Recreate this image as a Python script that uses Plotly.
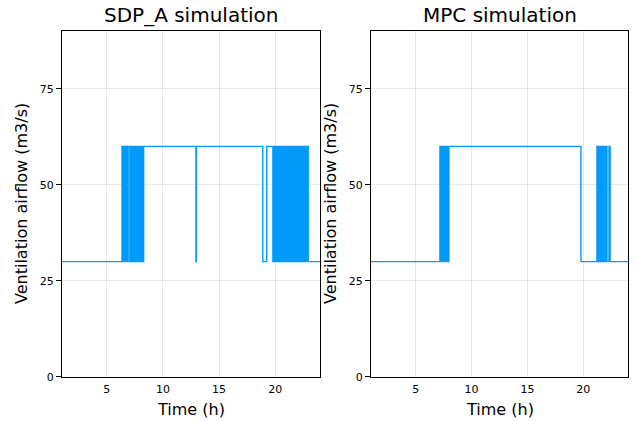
import plotly.graph_objects as go
from plotly.subplots import make_subplots

# Ventilation airflow set-points (m3/s), stored as change points:
# the value holds from each time until the next one (step "hv").
sdp_time = [
    1.00, 6.35, 6.45, 6.55, 6.65, 6.75, 6.85, 6.90,
    7.05, 7.15, 7.25, 7.35, 7.45, 7.55, 7.65, 7.75, 7.85, 7.95, 8.05, 8.10,
    8.22, 8.28,
    12.94, 12.97,
    18.90, 19.25,
    19.80, 19.90, 20.00, 20.10, 20.20, 20.30, 20.40, 20.50, 20.60, 20.70,
    20.80, 20.90, 21.00, 21.10, 21.20, 21.30, 21.40, 21.50, 21.60, 21.70,
    21.80, 21.90, 22.00, 22.10, 22.20, 22.30, 22.40, 22.50, 22.60, 22.70,
    22.80, 22.90, 22.95,
    24.00,
]
sdp_flow = [
    30, 60, 30, 60, 30, 60, 30, 60,
    30, 60, 30, 60, 30, 60, 30, 60, 30, 60, 30, 60,
    30, 60,
    30, 60,
    30, 60,
    30, 60, 30, 60, 30, 60, 30, 60, 30, 60,
    30, 60, 30, 60, 30, 60, 30, 60, 30, 60,
    30, 60, 30, 60, 30, 60, 30, 60, 30, 60,
    30, 60, 30,
    30,
]

mpc_time = [
    1.00, 7.17, 7.27, 7.37, 7.47, 7.57, 7.67, 7.77, 7.87, 7.92,
    7.95, 7.97,
    19.79,
    21.22, 21.32, 21.42, 21.52, 21.62, 21.72, 21.82, 21.92, 22.02, 22.12, 22.17,
    22.30, 22.40,
    24.00,
]
mpc_flow = [
    30, 60, 30, 60, 30, 60, 30, 60, 30, 60,
    30, 60,
    30,
    60, 30, 60, 30, 60, 30, 60, 30, 60, 30, 30,
    60, 30,
    30,
]

panel_titles = ["SDP_A simulation", "MPC simulation"]
x_label = "Time (h)"
y_label = "Ventilation airflow (m3/s)"
x_ticks = [5, 10, 15, 20]
y_ticks = [0, 25, 50, 75]

LINE = "#009AFA"
FONT = "DejaVu Sans"
W, H = 637, 421
H_LAYOUT = 413  # vertical extent used for placing the panels

fig = make_subplots(rows=1, cols=2)

for col, (t, q) in enumerate([(sdp_time, sdp_flow), (mpc_time, mpc_flow)], start=1):
    fig.add_trace(
        go.Scatter(x=t, y=q, mode="lines", line=dict(color=LINE, width=1.4, shape="hv"),
                   showlegend=False, hoverinfo="skip"),
        row=1, col=col,
    )

# plot-area placement in pixels
x_dom = [(62, 320), (371, 628)]
y_top, y_bot = 31, 376


def fy(px):
    """Paper y fraction for a pixel row counted from the top."""
    return 1 - px / H_LAYOUT


axis_common = dict(
    showline=True, linecolor="black", linewidth=1, mirror=True,
    showgrid=True, gridcolor="rgba(0,0,0,0.09)", gridwidth=1,
    zeroline=False, tickfont=dict(family=FONT, size=11, color="black"),
)

for i, (x0, x1) in enumerate(x_dom, start=1):
    sfx = "" if i == 1 else str(i)
    fig.layout["xaxis" + sfx].update(
        domain=[x0 / W, x1 / W], range=[1, 24], tickvals=x_ticks,
        ticks="", ticklabelstandoff=2, **axis_common,
    )
    fig.layout["yaxis" + sfx].update(
        domain=[fy(y_bot), fy(y_top)], range=[0, 90], tickvals=y_ticks,
        ticks="outside", ticklen=5, tickcolor="black", **axis_common,
    )
    cx = (x0 + x1) / 2 / W
    fig.add_annotation(text=panel_titles[i - 1], x=cx, y=fy(15), xref="paper", yref="paper",
                       showarrow=False, font=dict(family=FONT, size=20, color="black"),
                       xanchor="center", yanchor="middle")
    fig.add_annotation(text=x_label, x=cx, y=fy(409), xref="paper", yref="paper",
                       showarrow=False, font=dict(family=FONT, size=16, color="black"),
                       xanchor="center", yanchor="middle")
    fig.add_annotation(text=y_label, x=(x0 - 40) / W, y=fy((y_top + y_bot) / 2),
                       xref="paper", yref="paper", textangle=-90,
                       showarrow=False, font=dict(family=FONT, size=16, color="black"),
                       xanchor="center", yanchor="middle")

fig.update_layout(
    width=W, height=H,
    margin=dict(l=0, r=0, t=0, b=0),
    paper_bgcolor="white", plot_bgcolor="white",
)

fig.write_html("out.html")
